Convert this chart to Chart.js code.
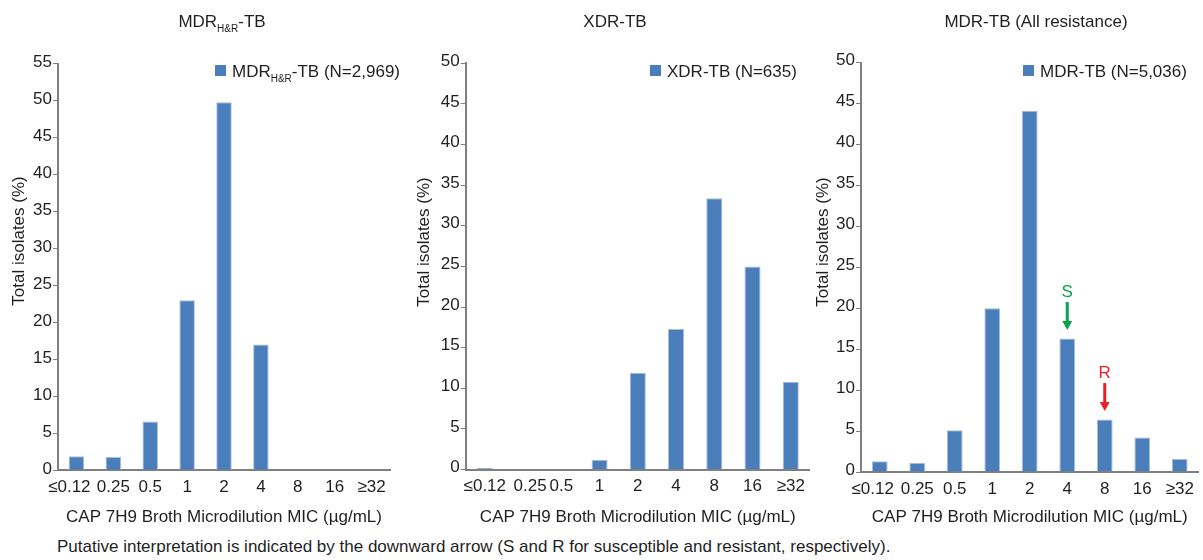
<!DOCTYPE html>
<html>
<head>
<meta charset="utf-8">
<script src="https://cdn.jsdelivr.net/npm/chart.js@4.4.1/dist/chart.umd.min.js"></script>
<style>
  html, body { margin:0; padding:0; background:#fff; width:1203px; height:560px; overflow:hidden; }
  .panel { position:absolute; top:0; height:530px; }
  #note { position:absolute; left:57px; top:537px; font:17px "Liberation Sans", Arial, sans-serif; color:#1f1f1f; white-space:nowrap; }
</style>
</head>
<body>
<div class="panel" id="p0" style="left:0px;width:405px"><canvas id="c0"></canvas></div>
<div class="panel" id="p1" style="left:405px;width:407px"><canvas id="c1"></canvas></div>
<div class="panel" id="p2" style="left:808px;width:395px"><canvas id="c2"></canvas></div>
<div id="note"></div>
<script>
// ---------- DATA ----------
const categories = ['≤0.12', '0.25', '0.5', '1', '2', '4', '8', '16', '≥32'];
const mdrHRValues  = [1.9, 1.8, 6.6, 23.0, 49.8, 17.0, 0, 0, 0];
const xdrValues    = [0.2, 0, 0, 1.2, 11.9, 17.3, 33.4, 25.0, 10.8];
const mdrAllValues = [1.3, 1.1, 5.1, 20.0, 44.1, 16.3, 6.4, 4.2, 1.6];
const yMaxValues   = [55, 50, 50];
const yStep = 5;
const panelTitles = [
  [{t:'MDR'}, {t:'H&R', sub:true}, {t:'-TB'}],
  [{t:'XDR-TB'}],
  [{t:'MDR-TB (All resistance)'}]
];
const legendLabels = [
  [{t:'MDR'}, {t:'H&R', sub:true}, {t:'-TB (N=2,969)'}],
  [{t:'XDR-TB (N=635)'}],
  [{t:'MDR-TB (N=5,036)'}]
];
const yAxisTitle = 'Total isolates (%)';
const xAxisTitle = 'CAP 7H9 Broth Microdilution MIC (µg/mL)';
const breakpointLabels = ['S', 'R'];
const breakpointCategories = ['4', '8'];
const footnoteText = 'Putative interpretation is indicated by the downward arrow (S and R for susceptible and resistant, respectively).';

// ---------- STYLE / LAYOUT ----------
const FONT_FAMILY = '"Liberation Sans", Arial, sans-serif';
const FS = 17;
const TEXT = '#1f1f1f';
const AXIS = '#808080';
const BAR = '#4a7ebb';
const BAR_EDGE = '#a3bde0';
const BP_COLORS = ['#0aa24f', '#e8202a'];
// nudge: [tick index, spaces before, spaces after] to mimic label placement of the original
const layouts = [
  {yW:58,   padR:15,  top:63.7, xH:59.7, titleX:222, legX:232, yTitleX:19.5, yTitleY:241, lblOff:-1, nudge:[0, 0, 3]},
  {yW:60.7, padR:2,   top:63.3, xH:60.5, titleX:210, legX:262, yTitleX:19,   yTitleY:242, lblOff:-2, nudge:[1, 3, 0]},
  {yW:53,   padR:4.5, top:62.5, xH:58,   titleX:228, legX:232, yTitleX:15,   yTitleY:242, lblOff:-2, nudge:[0, 0, 3]}
];
const seriesList = [mdrHRValues, xdrValues, mdrAllValues];

document.getElementById('note').textContent = footnoteText;

function drawRich(ctx, parts, x, y, size, align, subDy) {
  const main = size + 'px ' + FONT_FAMILY;
  const sub = Math.round(size * 0.6) + 'px ' + FONT_FAMILY;
  let w = 0;
  parts.forEach(p => { ctx.font = p.sub ? sub : main; w += ctx.measureText(p.t).width; });
  let cx = align === 'center' ? x - w / 2 : x;
  ctx.textAlign = 'left';
  ctx.textBaseline = 'alphabetic';
  parts.forEach(p => {
    ctx.font = p.sub ? sub : main;
    ctx.fillText(p.t, cx, p.sub ? y + subDy : y);
    cx += ctx.measureText(p.t).width;
  });
}

const panelDecor = {
  id: 'panelDecor',
  afterDraw(chart, args, o) {
    const ctx = chart.ctx;
    ctx.save();
    ctx.fillStyle = TEXT;
    drawRich(ctx, o.title, o.titleX, 27, FS, 'center', 5);
    ctx.fillStyle = BAR;
    ctx.fillRect(o.legX - 17, 65, 11, 11);
    ctx.fillStyle = TEXT;
    drawRich(ctx, o.legend, o.legX, 76.5, FS, 'left', 5.5);
    ctx.translate(o.yTitleX, o.yTitleY);
    ctx.rotate(-Math.PI / 2);
    ctx.font = FS + 'px ' + FONT_FAMILY;
    ctx.textAlign = 'center';
    ctx.textBaseline = 'middle';
    ctx.fillText(o.yTitle, 0, 0);
    ctx.restore();

    if (o.marks) {
      const meta = chart.getDatasetMeta(0);
      o.marks.forEach(m => {
        const idx = chart.data.labels.indexOf(m.category);
        const el = meta.data[idx];
        if (!el) return;
        const x = el.x, top = el.y;
        const tip = top - 8.5;
        ctx.save();
        ctx.fillStyle = m.color;
        ctx.fillRect(x - 1.5, tip - 28, 3, 19.5);
        ctx.beginPath();
        ctx.moveTo(x - 5, tip - 9);
        ctx.lineTo(x + 5, tip - 9);
        ctx.lineTo(x, tip);
        ctx.closePath();
        ctx.fill();
        ctx.font = FS + 'px ' + FONT_FAMILY;
        ctx.textAlign = 'center';
        ctx.textBaseline = 'middle';
        ctx.fillText(m.label, x, top - 46);
        ctx.restore();
      });
    }
  }
};

seriesList.forEach((values, i) => {
  const L = layouts[i];
  const marks = i === 2 ? breakpointLabels.map((lab, k) => ({label: lab, category: breakpointCategories[k], color: BP_COLORS[k]})) : null;
  new Chart(document.getElementById('c' + i), {
    type: 'bar',
    data: {
      labels: categories,
      datasets: [{
        label: legendLabels[i].map(p => p.t).join(''),
        data: values,
        backgroundColor: BAR,
        borderColor: BAR_EDGE,
        borderWidth: 1,
        borderSkipped: 'bottom',
        categoryPercentage: 1.0,
        barPercentage: 0.42
      }]
    },
    plugins: [panelDecor],
    options: {
      responsive: true,
      maintainAspectRatio: false,
      animation: false,
      layout: { padding: { left: 0, right: L.padR, top: L.top, bottom: 0 } },
      plugins: {
        legend: { display: false },
        title: { display: false },
        tooltip: { enabled: false },
        panelDecor: {
          title: panelTitles[i], titleX: L.titleX,
          legend: legendLabels[i], legX: L.legX,
          yTitle: yAxisTitle, yTitleX: L.yTitleX, yTitleY: L.yTitleY,
          marks: marks
        }
      },
      scales: {
        x: {
          afterFit: s => { s.height = L.xH; },
          grid: { display: false, drawTicks: false },
          border: { display: true, color: AXIS, width: 2 },
          ticks: {
            color: TEXT, font: { family: FONT_FAMILY, size: FS }, padding: 7, maxRotation: 0, autoSkip: false,
            callback: function(value, index) {
              const lab = this.getLabelForValue(value);
              if (index === L.nudge[0]) return ' '.repeat(L.nudge[1]) + lab + ' '.repeat(L.nudge[2]);
              return lab;
            }
          },
          title: { display: true, text: xAxisTitle, color: TEXT, font: { family: FONT_FAMILY, size: FS }, padding: { top: 0, bottom: 2 } }
        },
        y: {
          min: 0,
          max: yMaxValues[i],
          afterFit: s => { s.width = L.yW; },
          grid: { drawOnChartArea: false, drawTicks: true, tickLength: 5, color: AXIS, lineWidth: 1 },
          border: { display: true, color: AXIS, width: 2 },
          ticks: { stepSize: yStep, color: TEXT, font: { family: FONT_FAMILY, size: FS }, padding: 1, labelOffset: L.lblOff }
        }
      }
    }
  });
});
</script>
</body>
</html>
